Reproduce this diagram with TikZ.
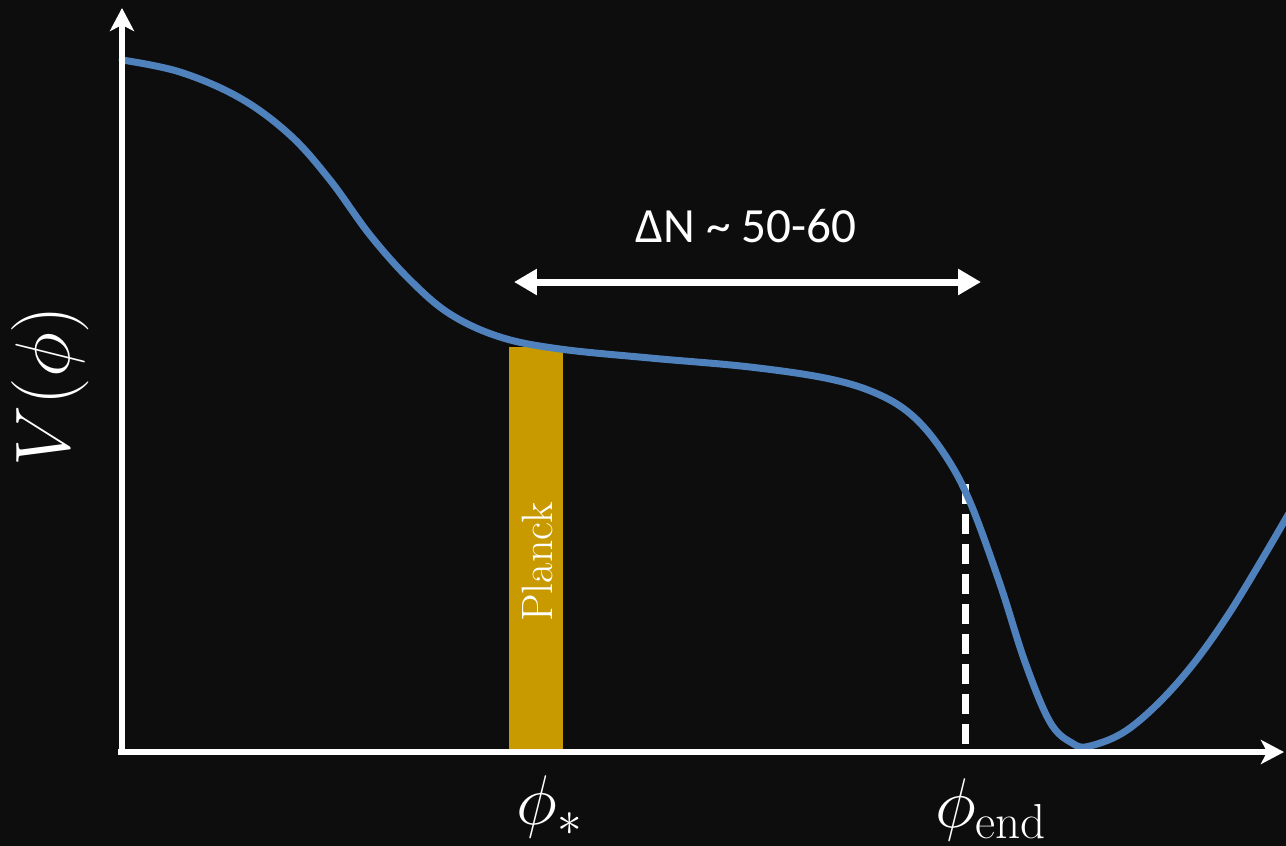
\documentclass[tikz,border=0pt]{standalone}
\usepackage{fix-cm}
\usepackage{fontspec}
\newfontfamily\labelfont{Carlito}
\usetikzlibrary{arrows.meta,positioning,calc}
\definecolor{BgBlack}{HTML}{0D0D0D}
\definecolor{CurveBlue}{HTML}{4F81BD}
\definecolor{PlanckGold}{HTML}{C99A00}

\begin{document}
\begin{tikzpicture}[x=0.02cm,y=-0.02cm,
  axis/.style={draw=white,line width=1.3mm,-{Stealth[length=4.6mm,width=4.8mm,inset=1.2mm]}},
  span/.style={draw=white,line width=1.4mm,{Triangle[length=4.6mm,width=5mm]}-{Triangle[length=4.6mm,width=5mm]}},
  potential/.style={draw=CurveBlue,line width=1.4mm,line cap=round},
  endline/.style={draw=white,line width=1.4mm,dash pattern=on 4mm off 2mm},
  mathlabel/.style={text=white,font=\fontsize{40}{46}\selectfont,inner sep=1pt}]
\fill[BgBlack] (0,0) rectangle (1286,846);
\useasboundingbox (0,0) rectangle (1286,846);

\coordinate (origin) at (122,755);
\coordinate (ytip) at (122,8);
\coordinate (xstart) at (118,752);
\coordinate (xtip) at (1284,752);

% Planck window
\fill[PlanckGold] (509,347) rectangle (563,752);
\node (planck) [text=white,rotate=90,font=\fontsize{25}{30}\selectfont] at (537,562) {Planck};

% end of inflation
\coordinate (endtop) at (965,484);
\coordinate (endbot) at (965,752);
\draw[endline] (endtop) -- (endbot);

% potential
\draw[potential] plot[smooth,tension=0.6] coordinates {
  (122,60) (180,72) (240,98) (290,135) (330,180) (370,235) (410,280)
  (450,314) (500,337) (560,349) (650,358) (750,367) (830,379) (880,395)
  (915,418) (945,455) (970,502) (1000,584) (1025,662) (1050,722)
  (1072,743) (1090,746) (1130,728) (1180,680) (1230,612) (1292,508)};

% axes
\draw[axis] (origin) -- (ytip);
\draw[axis] (xstart) -- (xtip);

% e-folds
\coordinate (dnL) at (514,282);
\coordinate (dnR) at (981,282);
\draw[span] (dnL) -- (dnR);
\node (efolds) [text=white,font=\labelfont\fontsize{28}{32}\selectfont] at (746,226) {ΔN \textasciitilde{} 50-60};

% labels
\node (vphi) [mathlabel,rotate=90,font=\fontsize{44}{50}\selectfont] at (50,386) {$V(\phi)$};
\node (phistar) [mathlabel] at (550,807) {$\phi_*$};
\node (phiend) [mathlabel] at (991,810) {$\phi_{\mathrm{end}}$};
\end{tikzpicture}
\end{document}
